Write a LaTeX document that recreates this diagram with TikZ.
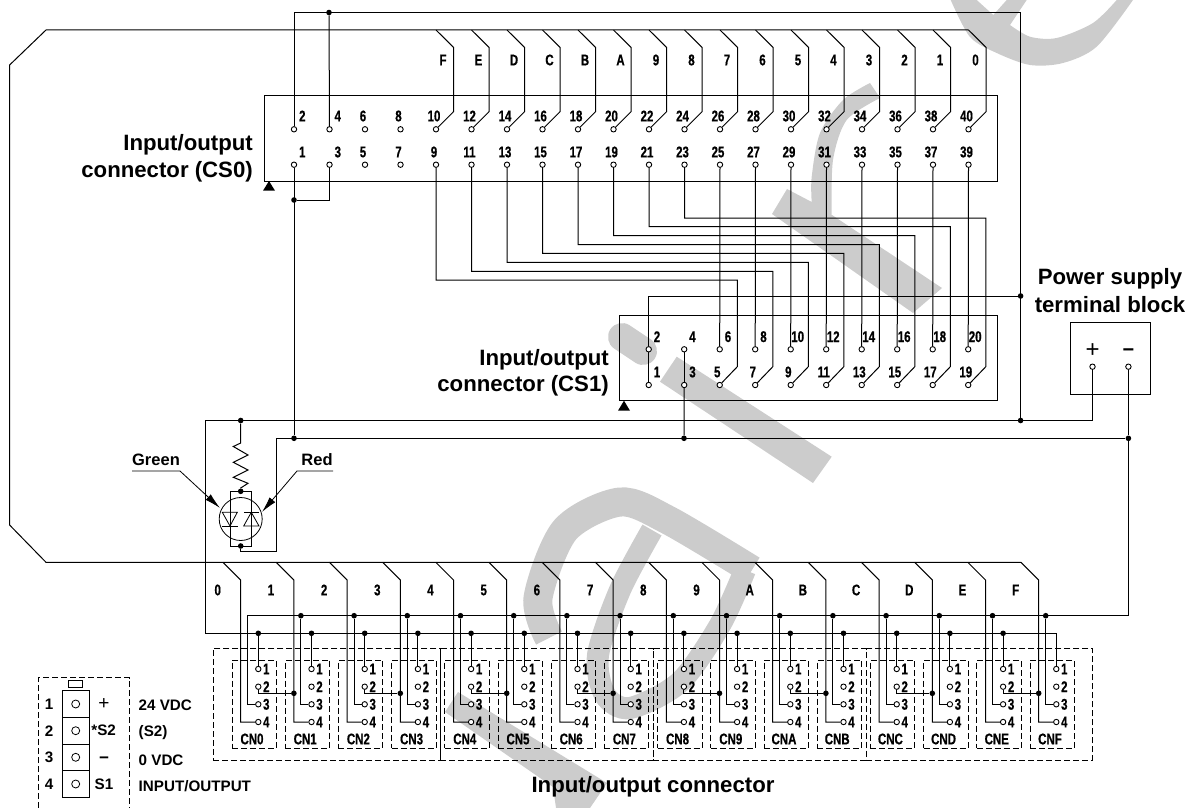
\documentclass[tikz,border=0pt]{standalone}
\usepackage{fontspec}
\setmainfont{Liberation Sans}
\newfontfamily\condf{Liberation Sans}[BoldFont={Liberation Sans Bold},BoldFeatures={FakeStretch=0.74,FakeBold=0.6},FakeStretch=0.74]
\usetikzlibrary{arrows.meta}
\definecolor{wmgray}{HTML}{CCCCCC}
\tikzset{
  wm/.style={fill=wmgray,draw=none},
  wmline/.style={draw=wmgray},
  wire/.style={draw=black,line width=1pt,line join=miter},
  thin wire/.style={draw=black,line width=0.8pt},
  boxst/.style={draw=black,line width=1pt,rectangle,anchor=north west,inner sep=0pt,outer sep=0pt},
  dashbox/.style={boxst,line width=0.9pt,dash pattern=on 6pt off 3pt},
  dashline/.style={draw=black,line width=0.9pt,dash pattern=on 6pt off 3pt},
  pinst/.style={draw=black,line width=0.9pt,fill=white,circle,inner sep=0pt,minimum size=5.4pt},
  dot/.style={fill=black,draw=none,circle,inner sep=0pt,minimum size=5.6pt},
  pl/.style={inner sep=0pt,font=\condf\bfseries\fontsize{15.5}{17}\selectfont},
  big/.style={inner sep=0pt,font=\bfseries\fontsize{22.2}{26}\selectfont},
  mid/.style={inner sep=0pt,font=\bfseries\fontsize{15.2}{17}\selectfont},
  small/.style={inner sep=0pt,font=\bfseries\fontsize{16.5}{18}\selectfont},
  tri/.style={fill=black,draw=none},
}
\begin{document}
\begin{tikzpicture}[x=1pt,y=-1pt]
\useasboundingbox (0,0) rectangle (1192,808);
% ---- grey background strokes
\fill[wm] plot[smooth] coordinates {(950.7,0)(970,37)(996.7,53)(1030,65)(1063,63)(1096.7,46.7)(1133,0)}
  -- plot[smooth] coordinates {(1116.7,0)(1093,23)(1056.7,38)(1030,36.7)(1010,25)}
  -- (1026.7,0) -- (1006.7,0) -- (993.3,15) -- (976.7,0) -- cycle;
\fill[wm] plot[smooth] coordinates {(870,83)(843,100)(820,133)(811.7,176.7)(811.7,202)}
  -- (787,189) -- (772,214) -- (913,313) -- (942,288) -- (832,215)
  -- plot[smooth] coordinates {(831.7,215)(833,160)(846.7,120)(880,98)} -- cycle;
\draw[wmline,line width=28pt,line cap=round] (622,337) -- (643,351);
\fill[wm] (676.7,356.7) -- (660,381.7) -- (813,483) -- (831.7,456.7) -- cycle;
\draw[wmline,line width=29pt] plot[smooth] coordinates {(549,638)(538,598)(565,530)(620,502)(668,520)(752,570)};
\draw[wmline,line width=22pt] plot[smooth] coordinates {(652,530)(620,590)(598,655)(605,695)(630,708)(680,682)(720,625)(745,570)};
\fill[wm] (458,692) -- (607,783) -- (590,808) -- (556,808) -- (553,787) -- (445,712) -- cycle;
% ---- boxes
\node[boxst,minimum width=732.5pt,minimum height=85.3pt] (cs0) at (264.5,95.7) {};
\node[boxst,minimum width=377.7pt,minimum height=85pt] (cs1) at (619.3,315.7) {};
\node[boxst,minimum width=80pt,minimum height=71.3pt] (pwr) at (1070,322.7) {};
\fill[tri] (269,181) -- (275,190.7) -- (263,190.7) -- cycle;
\fill[tri] (624,400.7) -- (630,410.7) -- (618,410.7) -- cycle;
\node[dashbox,minimum width=227pt,minimum height=111.3pt] (g1) at (213,648.7) {};
\node[dashbox,minimum width=213.3pt,minimum height=111.3pt] (g2) at (440,648.7) {};
\node[dashbox,minimum width=213pt,minimum height=111.3pt] (g3) at (653.3,648.7) {};
\node[dashbox,minimum width=226.4pt,minimum height=111.3pt] (g4) at (866.3,648.7) {};
% ---- CS0 pins
\foreach \k in {0,...,19}{
  \pgfmathtruncatemacro\ev{2*\k+2}
  \pgfmathtruncatemacro\od{2*\k+1}
  \pgfmathsetmacro\xx{294+35.5*\k}
  \node[pinst] (a\ev) at (\xx,129.3) {};
  \node[pinst] (a\od) at (\xx,164.7) {};
  \pgfmathsetmacro\off{ifthenelse(\k<2,8.3,-2)}
  \node[pl] (la\ev) at (\xx+\off,116) {\ev};
  \node[pl] (la\od) at (\xx+\off,152) {\od};
}
% ---- CS1 pins
\foreach \k in {0,...,9}{
  \pgfmathtruncatemacro\ev{2*\k+2}
  \pgfmathtruncatemacro\od{2*\k+1}
  \pgfmathsetmacro\xx{648.7+35.5*\k}
  \node[pinst] (b\ev) at (\xx,349.3) {};
  \node[pinst] (b\od) at (\xx,385) {};
  \pgfmathsetmacro\offo{ifthenelse(\k<2,8.3,-2.4)}
  \pgfmathsetmacro\offe{ifthenelse(\k<4,8.3,7)}
  \node[pl] (lb\ev) at (\xx+\offe,336.7) {\ev};
  \node[pl] (lb\od) at (\xx+\offo,372) {\od};
}
% ---- bottom connector pins and boxes
\foreach \n/\N in {0/0,1/1,2/2,3/3,4/4,5/5,6/6,7/7,8/8,9/9,10/A,11/B,12/C,13/D,14/E,15/F}{
  \pgfmathsetmacro\xx{258.3+53.2*\n}
  \pgfmathsetmacro\bx{232+53.2*\n}
  \node[dashbox,minimum width=44.5pt,minimum height=88.3pt] (cnb\n) at (\bx,660) {};
  \node[pl] (cnl\n) at (\xx-6.3,739) {CN\N};
  \foreach \p/\yy in {1/669,2/686.7,3/704.3,4/722}{
    \node[pinst] (c\n p\p) at (\xx,\yy) {};
    \node[pl] (cl\n p\p) at (\xx+8,\yy) {\p};
  }
}
% ---- power terminals
\node[pinst] (pplus) at (1092.5,366.7) {};
\node[pinst] (pminus) at (1128.4,366.7) {};
% ---- junctions and corners
\node[dot] (d4) at (329,12.5) {};
\coordinate (tr) at (1020.6,12.5);
\node[dot] (dr1) at (1020.6,296) {};
\node[dot] (dr2) at (1020.6,420.5) {};
\node[dot] (dl1) at (294,200) {};
\node[dot] (dp) at (294,438.3) {};
\node[dot] (dq) at (684,438.3) {};
\node[dot] (dm) at (1128.4,438.3) {};
\node[dot] (dtop) at (240.7,420.5) {};
\node[dot] (ledt) at (240.7,491.3) {};
\node[dot] (ledb) at (240.7,546) {};
\coordinate (cA) at (205,420.5);
\coordinate (cB) at (205,633.3);
\coordinate (cC) at (1128.4,615.7);
\coordinate (cD) at (247.7,615.7);
\coordinate (cE) at (276,438.3);
\coordinate (cF) at (276,551.7);
\coordinate (cG) at (240.7,551.7);
% ---- top rail
\draw[wire] (a2) |- (tr) -- (dr2);
\draw[wire] (a4) -- (d4);
\draw[wire] (a1) -- (dp);
\draw[wire] (a3) |- (dl1);
\draw[wire] (dr1) -| (b2);
\draw[wire] (b2) -- (b1);
\draw[wire] (b4) -- (b3);
\draw[wire] (b3) -- (dq);
% ---- channel bus, top
\coordinate (b0a) at (968.5,30);
\coordinate (b0b) at (46,30);
\coordinate (b0c) at (9.6,65);
\coordinate (b0d) at (9.6,525);
\coordinate (b0e) at (46,562.3);
\coordinate (b0f) at (1021,562.3);
\draw[wire] (b0a) -- (b0b) -- (b0c) -- (b0d) -- (b0e) -- (b0f);
\foreach \k/\L in {4/F,5/E,6/D,7/C,8/B,9/A,10/9,11/8,12/7,13/6,14/5,15/4,16/3,17/2,18/1,19/0}{
  \pgfmathsetmacro\xx{294+35.5*\k}
  \pgfmathtruncatemacro\ev{2*\k+2}
  \coordinate (ta\k) at (\xx,30);
  \coordinate (tb\k) at (\xx+17.5,47.3);
  \coordinate (tc\k) at (\xx+17.5,111.7);
  \draw[wire] (ta\k) -- (tb\k) -- (tc\k) -- (a\ev);
  \node[pl] (tl\k) at (\xx+7,60) {\L};
}
% ---- CS0 odd to CS1 even
\foreach \od/\ev in {25/6,27/8,29/10,31/12,33/14,35/16,37/18,39/20}{
  \draw[wire] (a\od) -- (b\ev);
}
% ---- rails
\draw[wire] (pplus) |- (cA) -- (cB) -| (c15p1);
\draw[wire] (pminus) -- (dm) -- (cC) -- (cD) |- (c0p3);
\draw[wire] (dm) -- (cE) -- (cF) -- (cG) -- (ledb);
\draw[wire] (dtop) -- (240.7,443) -- (233.3,446.5) -- (248,455) -- (233.3,462.3) -- (248,470) -- (233.3,477.3) -- (248,483.3) -- (240.7,488) -- (ledt);
% ---- LED
\node[draw=black,line width=0.8pt,rectangle,inner sep=0pt,minimum width=21.3pt,minimum height=54.7pt] (ledbox) at (240.7,518.65) {};
\node[draw=black,line width=0.8pt,circle,inner sep=0pt,minimum size=43pt] (led) at (240.7,519) {};
\draw[thin wire,line join=miter] (222.3,512.3) -- (237.3,512.3) -- (230,526) -- cycle;
\draw[thin wire] (222,526) -- (238,526);
\draw[thin wire,line join=miter] (243.7,526) -- (259,526) -- (251.3,512.3) -- cycle;
\draw[thin wire] (244,512.3) -- (259,512.3);
% ---- LED labels
\node[small] (green) at (156,460) {Green};
\node[small] (red) at (317,460) {Red};
\coordinate (gs) at (132,471);
\coordinate (gk) at (180,471);
\coordinate (gtip) at (220,508);
\coordinate (rs) at (333,471);
\coordinate (rk) at (297,471);
\coordinate (rtip) at (262,512);
\draw[thin wire,-{Latex[length=16pt,width=7.5pt]}] (gs) -- (gk) -- (gtip);
\draw[thin wire,-{Latex[length=16pt,width=7.5pt]}] (rs) -- (rk) -- (rtip);
% ---- bottom channels
\foreach \n/\L in {0/0,1/1,2/2,3/3,4/4,5/5,6/6,7/7,8/8,9/9,10/A,11/B,12/C,13/D,14/E,15/F}{
  \pgfmathsetmacro\xa{223+53.2*\n}
  \pgfmathsetmacro\xb{240.7+53.2*\n}
  \coordinate (ba\n) at (\xa,562.3);
  \coordinate (bb\n) at (\xb,580);
  \coordinate (bc\n) at (\xb,722);
  \draw[wire] (ba\n) -- (bb\n) -- (bc\n) -- (c\n p4);
  \node[pl] (bl\n) at (\xa-5.3,590) {\L};
}
\foreach \n in {1,...,15}{
  \pgfmathsetmacro\xx{247.7+53.2*\n}
  \node[dot] (e\n) at (\xx,615.7) {};
  \draw[wire] (e\n) |- (c\n p3);
}
\foreach \n in {0,...,14}{
  \pgfmathsetmacro\xx{258.3+53.2*\n}
  \node[dot] (f\n) at (\xx,633.3) {};
  \draw[wire] (f\n) -- (c\n p1);
}
\foreach \n in {0,2,...,14}{
  \pgfmathsetmacro\xx{240.7+53.2*(\n+1)}
  \node[dot] (h\n) at (\xx,693.3) {};
  \draw[wire] (c\n p2) |- (h\n);
}
% ---- CS0 odd pins routed to CS1 odd pins
\foreach \od/\odb/\yy in {9/5/280,11/7/271.3,13/9/262.3,15/11/253.3,17/13/244.7,19/15/235.7,21/17/226.7,23/19/218}{
  \pgfmathsetmacro\xk{(\od-1)/2*35.5+294}
  \pgfmathsetmacro\xm{((\odb-1)/2)*35.5+648.7+17.6}
  \coordinate (rb\od) at (\xk,\yy);
  \coordinate (rc\od) at (\xm,\yy);
  \coordinate (rd\od) at (\xm,366.7);
  \draw[wire] (a\od) -- (rb\od) -- (rc\od) -- (rd\od) -- (b\odb);
}
% ---- titles
\node[big,anchor=east] (t1) at (253,145) {Input/output};
\node[big,anchor=east] (t2) at (253,171.7) {connector (CS0)};
\node[big,anchor=east] (t3) at (609,360) {Input/output};
\node[big,anchor=east] (t4) at (609,385.3) {connector (CS1)};
\node[big] (t5) at (1110,279) {Power supply};
\node[big] (t6) at (1110,305) {terminal block};
\node[big] (t7) at (653,787) {Input/output connector};
\node[inner sep=0pt,font=\fontsize{24}{26}\selectfont] (splus) at (1092.5,351) {+};
\node[inner sep=0pt,font=\bfseries\fontsize{20}{22}\selectfont] (sminus) at (1128.4,353) {−};
% ---- legend
\draw[dashline] (38.3,808) -- (38.3,677.7) -- (129.7,677.7) -- (129.7,808);
\node[boxst,minimum width=14pt,minimum height=7pt] (tab) at (68.7,680.7) {};
\foreach \i/\yt/\yc/\h in {1/690.7/704/26.6,2/717.3/730.7/26.7,3/744/757.3/26.7,4/770.7/784/26.3}{
  \node[boxst,minimum width=27.4pt,minimum height=\h pt] (sb\i) at (62.3,\yt) {};
  \node[draw=black,line width=0.8pt,circle,inner sep=0pt,minimum size=8pt] (sc\i) at (75.7,\yc) {};
  \node[mid] (sn\i) at (49,\yc) {\i};
}
\node[inner sep=0pt,font=\fontsize{19}{21}\selectfont] (lp) at (104,704) {+};
\node[mid] (ls2) at (103.7,730.7) {*S2};
\node[inner sep=0pt,font=\bfseries\fontsize{17}{19}\selectfont] (lm) at (104,760.5) {−};
\node[mid] (ls1) at (104,784) {S1};
\node[mid,anchor=west] (v1) at (138.5,705.7) {24 VDC};
\node[mid,anchor=west] (v2) at (138.5,733) {(S2)};
\node[mid,anchor=west] (v3) at (138.5,760) {0 VDC};
\node[mid,anchor=west] (v4) at (138.5,785.7) {INPUT/OUTPUT};
\end{tikzpicture}
\end{document}
